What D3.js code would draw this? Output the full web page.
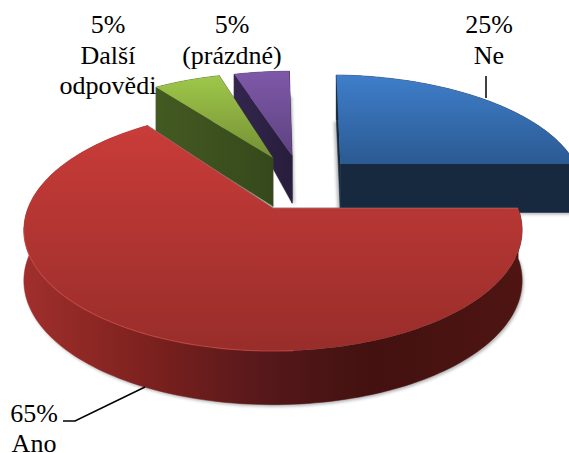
<!DOCTYPE html>
<html><head><meta charset="utf-8">
<script src="https://cdn.jsdelivr.net/npm/d3@7/dist/d3.min.js"></script>
<style>html,body{margin:0;padding:0;background:#fff;overflow:hidden}svg{display:block}text{font-family:"Liberation Serif",serif;font-size:26px;fill:#000}</style>
</head><body><svg id="c" width="569" height="453"></svg>
<script>
const categories = ["Ne","Ano","Další odpovědi","(prázdné)"];
const values = [25,65,5,5];
const labelLines = [["25%","Ne"],["65%","Ano"],["5%","Další","odpovědi"],["5%","(prázdné)"]];

// layout of the perspective view
const W=569,H=453, AX=273, AY=208, SX=245, SY=117, K=-0.182;
const explode=[{x:.295,y:-.404,r:1.03,trim:.03,endTrim:0,base:70,slope:20,sdx:-2.5},
               {x:0,y:0,r:1,trim:0,endTrim:0,base:70,slope:20,sdx:1.5},
               {x:0,y:-.463,r:1,trim:0,endTrim:-.035,base:70,slope:20,sdx:1.5},
               {x:.085,y:-.485,r:1,trim:.025,endTrim:0,base:191,slope:132,sdx:2.5}];
const topFill=[["#3f7fcc","#2b5a92",73,164],["#c93c39","#982d2a",126,351],["#9fc84a","#758f35",75,158],["#8059aa","#5c4280",69,157]];
const sideStops=[
 [[0,"#16293f"],[1,"#16293f"]],
 [[0,"#a02f2c"],[.25,"#7c211e"],[.5,"#54171a"],[.7,"#431110"],[1,"#4e1512"]],
 [[0,"#445a22"],[1,"#35481b"]],
 [[0,"#33264e"],[1,"#281d3c"]]];
const sideRange=[[336,569],[24,521],[156,275],[233,293]];

const svg=d3.select("#c");
const defs=svg.append("defs");
const blur=defs.append("filter").attr("id","sh").attr("x","-10%").attr("y","-10%").attr("width","120%").attr("height","120%");
blur.append("feGaussianBlur").attr("stdDeviation",1.4);

function project(X,Y){const d=1+K*Y;return {x:AX+SX*X/d,y:AY+SY*Y/d,d};}
const line=d3.line().x(p=>p.x).y(p=>p.y);

const arcs=d3.pie().sort(null).value(d=>d).startAngle(0).endAngle(2*Math.PI)(values);
function slicePts(a,i){
  const e=explode[i],a0=a.startAngle+e.trim,a1=a.endAngle-e.endTrim;
  const n=Math.max(8,Math.round((a1-a0)*40));
  return d3.range(n+1).map(j=>{
    const t=a0+(a1-a0)*j/n;
    return project(e.x+e.r*Math.sin(t),e.y-e.r*Math.cos(t));
  });
}
const order=[3,2,0,1];
order.forEach(i=>{
  const a=arcs[i],e=explode[i],arc=slicePts(a,i),apex=project(e.x,e.y);
  const down=p=>({x:p.x,y:p.y+e.base-e.slope*p.d});
  const g=svg.append("g").attr("class","slice").attr("data-cat",categories[i]);
  const sg=defs.append("linearGradient").attr("id","side"+i).attr("gradientUnits","userSpaceOnUse")
    .attr("x1",sideRange[i][0]).attr("x2",sideRange[i][1]).attr("y1",0).attr("y2",0);
  sideStops[i].forEach(s=>sg.append("stop").attr("offset",s[0]).attr("stop-color",s[1]));
  const tg=defs.append("linearGradient").attr("id","top"+i).attr("gradientUnits","userSpaceOnUse")
    .attr("x1",0).attr("x2",0).attr("y1",topFill[i][2]).attr("y2",topFill[i][3]);
  tg.append("stop").attr("offset",0).attr("stop-color",topFill[i][0]);
  tg.append("stop").attr("offset",1).attr("stop-color",topFill[i][1]);
  const walls=[
    [apex,arc[0],down(arc[0]),down(apex)],
    [apex,arc[arc.length-1],down(arc[arc.length-1]),down(apex)],
    arc.concat(arc.map(down).reverse())
  ];
  const shadow=d3.line().x(p=>p.x+e.sdx).y(p=>p.y+2);
  g.append("path").attr("d",shadow(arc.map(down).concat([down(apex)]))+"Z").attr("fill","#888").attr("opacity",.6).attr("filter","url(#sh)");
  walls.forEach(w=>g.append("path").attr("d",line(w)+"Z").attr("fill",`url(#side${i})`).attr("stroke",`url(#side${i})`).attr("stroke-width",.5));
  const face=[apex].concat(arc);
  g.append("path").attr("d",line(face)+"Z").attr("fill",`url(#top${i})`);
  if(i===1){
    const rim=arc.filter(p=>p.x<300&&p.y>225);
    g.append("path").attr("d",line(rim)).attr("fill","none").attr("stroke","#cc4a45").attr("stroke-width",1.1).attr("opacity",.75);
    g.append("path").attr("d",line([arc[0],apex,arc[arc.length-1]])).attr("fill","none").attr("stroke","#aaa").attr("stroke-width",.8).attr("opacity",.5);
  }
});

// leader lines
const leaders=[[[486,76],[486,98]],[[145,387],[75,421],[63,421]]];
leaders.forEach(l=>svg.append("path").attr("d",d3.line()(l)).attr("fill","none").attr("stroke","#000").attr("stroke-width",1.5));

// labels
const labelPos=[{x:489,y:33,step:30.5},{x:34,y:422,step:29.5},{x:108,y:33,step:30.5},{x:232,y:33,step:30.5}];
labelLines.forEach((ls,i)=>{
  const t=svg.append("text").attr("text-anchor","middle");
  ls.forEach((s,j)=>t.append("tspan").attr("x",labelPos[i].x).attr("y",labelPos[i].y+j*labelPos[i].step).text(s));
});
</script></body></html>
